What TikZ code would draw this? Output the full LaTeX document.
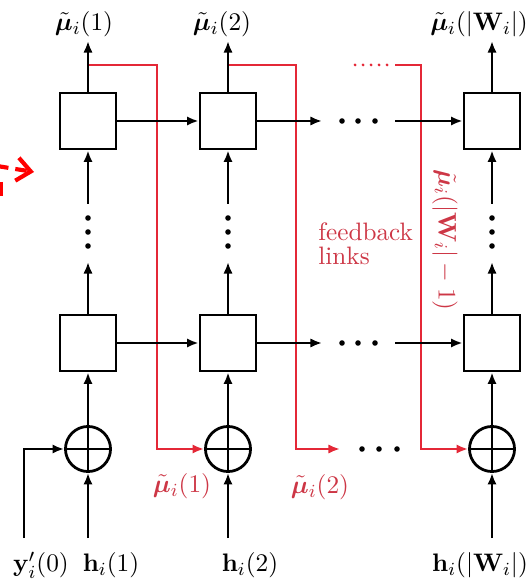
\documentclass[tikz,border=0pt]{standalone}
\usepackage{amsmath,bm}
\usetikzlibrary{arrows.meta}
\definecolor{fbred}{RGB}{228,40,55}
\definecolor{fbtext}{RGB}{205,55,70}
\begin{document}
\begin{tikzpicture}[x=0.4325pt,y=-0.4325pt,
 font=\fontsize{11.2pt}{13pt}\selectfont,
 blk/.style={draw, line width=1.2pt, minimum size=24.2pt, inner sep=0pt},
 sumnode/.style={draw, circle, line width=1.2pt, minimum size=19.5pt, inner sep=0pt,
   path picture={\draw[line width=1.2pt] (path picture bounding box.north) -- (path picture bounding box.south)
   (path picture bounding box.west) -- (path picture bounding box.east);}},
 ar/.style={line width=1.2pt, -{Latex[length=5pt,width=4pt]}},
 fb/.style={fbred, line width=0.95pt},
 fbar/.style={fb, -{Latex[length=5pt,width=4pt]}},
 bdot/.style={circle, fill, inner sep=0pt, minimum size=2.4pt},
 rdot/.style={circle, fill=fbred, inner sep=0pt, minimum size=1.3pt},
 lbl/.style={inner sep=0pt},
 redlbl/.style={inner sep=0pt, text=fbtext},
]
\useasboundingbox (0,0) rectangle (529,584);

% blocks
\node[blk] (t1) at (88,121) {};
\node[blk] (t2) at (228,121) {};
\node[blk] (t3) at (492,121) {};
\node[blk] (m1) at (88,343) {};
\node[blk] (m2) at (228,343) {};
\node[blk] (m3) at (492,343) {};
\node[sumnode] (s1) at (88,449) {};
\node[sumnode] (s2) at (228,449) {};
\node[sumnode] (s3) at (492,449) {};

% top labels
\node[lbl] (o1) at (84,24) {$\tilde{\bm{\mu}}_i(1)$};
\node[lbl] (o2) at (222,24) {$\tilde{\bm{\mu}}_i(2)$};
\node[lbl] (o3) at (479,24) {$\tilde{\bm{\mu}}_i(|\mathbf{W}_i|)$};

% bottom labels
\node[lbl] (ly) at (41,565) {$\mathbf{y}'_i(0)$};
\node[lbl] (lh1) at (111,565) {$\mathbf{h}_i(1)$};
\node[lbl] (lh2) at (250,565) {$\mathbf{h}_i(2)$};
\node[lbl] (lh3) at (480,565) {$\mathbf{h}_i(|\mathbf{W}_i|)$};

% coordinates for column connectors
\foreach \n/\x in {1/88, 2/228, 3/492}{
  \coordinate (a\n) at (\x,41);
  \coordinate (u\n) at (\x,204);
  \coordinate (v\n) at (\x,262);
  \coordinate (h\n) at (\x,538);
  \node[bdot] (d\n a) at (\x,218) {};
  \node[bdot] (d\n b) at (\x,232) {};
  \node[bdot] (d\n c) at (\x,246) {};
}
\coordinate (y0) at (24,538);

% red feedback links
\coordinate (r1) at (88,65);
\coordinate (q1) at (157,449);
\coordinate (r2) at (228,65);
\coordinate (q2) at (296,449);
\coordinate (e2) at (340,449);
\coordinate (r3) at (395,65);
\coordinate (q3) at (421,449);
\draw[fbar] (r1) -| (q1) -- (s2.west);
\draw[fbar] (r2) -| (q2) -- (e2);
\draw[fbar] (r3) -| (q3) -- (s3.west);
\foreach \x in {355,363,371,379,387}{ \node[rdot] at (\x,65) {}; }

% vertical connectors
\foreach \n in {1,2,3}{
  \draw[ar] (t\n.north) -- (a\n);
  \draw[ar] (u\n) -- (t\n.south);
  \draw[ar] (m\n.north) -- (v\n);
  \draw[ar] (s\n.north) -- (m\n.south);
  \draw[ar] (h\n) -- (s\n.south);
}
\draw[ar] (y0) |- (s1.west);

% horizontal connectors
\coordinate (t2e) at (322,121);
\coordinate (t3w) at (395,121);
\coordinate (m2e) at (322,343);
\coordinate (m3w) at (395,343);
\draw[ar] (t1.east) -- (t2.west);
\draw[ar] (t2.east) -- (t2e);
\draw[ar] (t3w) -- (t3.west);
\draw[ar] (m1.east) -- (m2.west);
\draw[ar] (m2.east) -- (m2e);
\draw[ar] (m3w) -- (m3.west);
\foreach \x in {342,358,375}{ \node[bdot] at (\x,121) {}; \node[bdot] at (\x,343) {}; }
\foreach \x in {362,379,397}{ \node[bdot] at (\x,449) {}; }

% red labels
\node[redlbl] (f1) at (182,486) {$\tilde{\bm{\mu}}_i(1)$};
\node[redlbl] (f2) at (320,487) {$\tilde{\bm{\mu}}_i(2)$};
\node[redlbl, anchor=base west, font=\fontsize{10.9pt}{13pt}\selectfont] (fl1) at (318,241) {feedback};
\node[redlbl, anchor=base west, font=\fontsize{10.9pt}{13pt}\selectfont] (fl2) at (318,265) {links};
\node[redlbl, rotate=-90] (fw) at (445,240) {$\tilde{\bm{\mu}}_i(|\mathbf{W}_i|-1)$};

% red dashed arrow fragment at left edge
\coordinate (z0) at (-3,166);
\coordinate (z1) at (34,172);
\draw[red, line width=1.8pt, dash pattern=on 5pt off 3pt, -{Straight Barb[length=6pt,width=10pt]}] (z0) -- (z1);
\coordinate (z2) at (1,182);
\coordinate (z3) at (1,196);
\draw[red, line width=1.8pt] (z2) -- (z3);
\end{tikzpicture}
\end{document}
